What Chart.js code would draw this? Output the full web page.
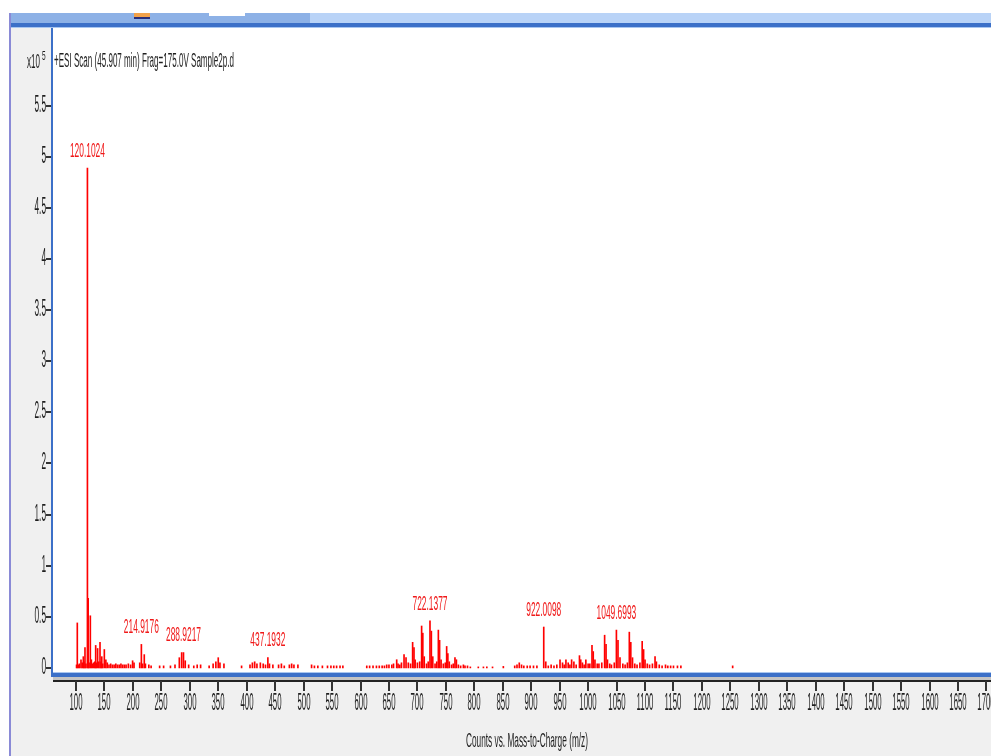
<!DOCTYPE html>
<html>
<head>
<meta charset="utf-8">
<script src="https://cdn.jsdelivr.net/npm/chart.js@4"></script>
<style>
  html, body { margin: 0; padding: 0; background: #fff; }
  #wrap { width: 991px; height: 756px; }
</style>
</head>
<body>
<div id="wrap"><canvas id="spectrum" width="991" height="756"></canvas></div>
<script>
// m/z of each stick and its height (x10^5 counts)
const mz = [
  101.0, 102.3, 104.5, 106, 108.8, 111, 112.9, 114, 115.8, 117.5,
  120.1, 121.4, 123, 125.2, 127, 129, 131, 133, 134.6, 136,
  138, 140, 142.2, 144, 145.3, 147, 149.8, 152.5, 155, 158,
  161, 164, 167, 170, 173, 176, 179, 182, 185, 188,
  192, 196, 199.5, 202, 212, 214.9, 217, 220, 222, 228,
  232, 247, 254, 266, 274, 281.6, 285.7, 288.9, 292, 298,
  307, 313, 319, 334, 341, 345.8, 350, 353, 360, 391,
  405.8, 410, 414, 418, 424, 429, 433, 437.2, 440, 446,
  456, 461, 466, 475, 479, 483, 490, 514, 519, 525,
  533, 542, 548, 553, 558, 564, 569, 611, 616, 622,
  628, 633, 638, 642, 646, 650, 655, 658, 663.6, 666,
  669, 672, 676.5, 680, 684, 688, 691.6, 694, 696, 700,
  704, 707.4, 709.5, 712, 716, 719, 722.1, 724.5, 727, 731,
  734, 736.8, 739, 741.6, 745.5, 749, 751.4, 753.5, 756, 760,
  763, 766, 768.5, 772, 776, 780.8, 783.6, 788, 793, 807,
  816, 822, 832, 851, 871, 875, 879, 883, 887, 893,
  898, 904, 910, 922.0, 925.6, 930, 935, 940, 945, 950.6,
  955, 958, 961, 965, 968, 971, 975, 979, 984.8, 987,
  990, 993, 996, 1000, 1003, 1006.8, 1009, 1012, 1016, 1019,
  1024, 1029, 1031.5, 1034, 1038, 1041, 1046, 1049.7, 1052.5, 1056,
  1061, 1065, 1069, 1072.4, 1075, 1078, 1082, 1086, 1091, 1095,
  1097.5, 1100, 1104, 1108, 1113, 1117.6, 1120, 1125, 1130, 1136,
  1140, 1145, 1150, 1157, 1163, 1254
];
const counts = [
  0.03, 0.44, 0.03, 0.04, 0.08, 0.05, 0.11, 0.06, 0.20, 0.04,
  4.89, 0.68, 0.05, 0.51, 0.08, 0.04, 0.05, 0.06, 0.22, 0.05,
  0.19, 0.06, 0.25, 0.06, 0.11, 0.04, 0.18, 0.08, 0.05, 0.03,
  0.04, 0.03, 0.03, 0.04, 0.03, 0.03, 0.04, 0.03, 0.03, 0.03,
  0.04, 0.03, 0.07, 0.05, 0.05, 0.23, 0.04, 0.13, 0.04, 0.03,
  0.02, 0.02, 0.02, 0.02, 0.03, 0.10, 0.15, 0.15, 0.07, 0.03,
  0.02, 0.03, 0.03, 0.02, 0.04, 0.06, 0.10, 0.05, 0.04, 0.02,
  0.03, 0.05, 0.06, 0.04, 0.05, 0.04, 0.03, 0.10, 0.04, 0.03,
  0.03, 0.04, 0.02, 0.03, 0.04, 0.03, 0.03, 0.03, 0.02, 0.02,
  0.02, 0.02, 0.02, 0.02, 0.02, 0.02, 0.02, 0.02, 0.02, 0.02,
  0.02, 0.02, 0.02, 0.02, 0.03, 0.03, 0.03, 0.04, 0.08, 0.04,
  0.03, 0.05, 0.13, 0.10, 0.05, 0.04, 0.25, 0.20, 0.08, 0.05,
  0.06, 0.41, 0.34, 0.11, 0.04, 0.06, 0.46, 0.36, 0.11, 0.04,
  0.06, 0.37, 0.27, 0.08, 0.04, 0.05, 0.21, 0.14, 0.06, 0.03,
  0.04, 0.10, 0.08, 0.03, 0.02, 0.03, 0.02, 0.02, 0.01, 0.01,
  0.01, 0.01, 0.01, 0.015, 0.02, 0.03, 0.05, 0.03, 0.02, 0.02,
  0.02, 0.02, 0.02, 0.40, 0.06, 0.02, 0.03, 0.02, 0.03, 0.08,
  0.05, 0.03, 0.08, 0.05, 0.03, 0.08, 0.06, 0.03, 0.12, 0.08,
  0.05, 0.03, 0.08, 0.04, 0.04, 0.22, 0.16, 0.08, 0.04, 0.04,
  0.05, 0.32, 0.23, 0.08, 0.04, 0.03, 0.05, 0.37, 0.27, 0.10,
  0.04, 0.03, 0.05, 0.35, 0.25, 0.10, 0.04, 0.03, 0.05, 0.26,
  0.18, 0.08, 0.04, 0.03, 0.04, 0.11, 0.06, 0.03, 0.02, 0.03,
  0.02, 0.02, 0.02, 0.02, 0.02, 0.02
];
const peakLabels = ['120.1024', '214.9176', '288.9217', '437.1932', '722.1377', '922.0098', '1049.6993'];
const xTicks = [100, 150, 200, 250, 300, 350, 400, 450, 500, 550, 600, 650, 700, 750, 800, 850,
  900, 950, 1000, 1050, 1100, 1150, 1200, 1250, 1300, 1350, 1400, 1450, 1500, 1550, 1600, 1650, 1700];
const yTicks = [0, 0.5, 1, 1.5, 2, 2.5, 3, 3.5, 4, 4.5, 5, 5.5];
const title = '+ESI Scan (45.907 min) Frag=175.0V Sample2p.d';
const xTitle = 'Counts vs. Mass-to-Charge (m/z)';

const FONT = '"Liberation Sans", Arial, sans-serif';

// narrow text like the instrument software draws it
function squeezed(ctx, text, x, y, size, sx, align, color) {
  ctx.save();
  ctx.font = size + 'px ' + FONT;
  ctx.fillStyle = color;
  ctx.textBaseline = 'middle';
  ctx.textAlign = align;
  ctx.translate(x, y);
  ctx.scale(sx, 1);
  ctx.fillText(text, 0, 0);
  ctx.restore();
}

function fitted(ctx, text, x, y, size, width, color) {
  ctx.save();
  ctx.font = size + 'px ' + FONT;
  const w = ctx.measureText(text).width;
  ctx.restore();
  squeezed(ctx, text, x, y, size, width / w, 'left', color);
}

const frame = {
  id: 'frame',
  beforeDraw(chart) {
    const ctx = chart.ctx;
    const a = chart.chartArea;
    ctx.save();
    ctx.fillStyle = '#ffffff';
    ctx.fillRect(0, 0, 991, 756);
    ctx.fillStyle = '#f0f0f0';
    ctx.fillRect(10, 24, 981, 732);
    // window strip at the top
    ctx.fillStyle = '#b9d3f7';
    ctx.fillRect(10, 13, 981, 11);
    ctx.fillStyle = '#8db1e6';
    ctx.fillRect(10, 13, 300, 10);
    ctx.fillStyle = '#3c70c8';
    ctx.fillRect(10, 23, 981, 4);
    ctx.fillStyle = '#a9c6f0';
    ctx.fillRect(10, 27, 981, 1);
    ctx.fillStyle = '#f2a24a';
    ctx.fillRect(134, 13, 16, 4);
    ctx.fillStyle = '#2a2f7a';
    ctx.fillRect(134, 17, 16, 2);
    ctx.fillStyle = '#ffffff';
    ctx.fillRect(209, 13, 36, 3);
    // left window edge
    ctx.fillStyle = '#8a8ad6';
    ctx.fillRect(9, 13, 2, 743);
    // plot area
    ctx.fillStyle = '#ffffff';
    ctx.fillRect(a.left, 28, a.right - a.left, a.bottom - 28);
    ctx.restore();
  },
  afterDraw(chart) {
    const ctx = chart.ctx;
    const a = chart.chartArea;
    const xs = chart.scales.x;
    const ys = chart.scales.y;
    ctx.save();
    // plot frame
    ctx.fillStyle = '#3c70c8';
    ctx.fillRect(a.left - 2, 28, 2, a.bottom - 28 + 5);
    ctx.fillStyle = '#a9c6f0';
    ctx.fillRect(a.left, a.bottom, a.right - a.left, 1);
    ctx.fillStyle = '#3c70c8';
    ctx.fillRect(a.left - 2, a.bottom + 1, a.right - a.left + 2, 4);
    ctx.fillStyle = '#c4c4c4';
    ctx.fillRect(a.left, a.bottom + 5, a.right - a.left, 3);
    // x axis
    ctx.fillStyle = '#222';
    ctx.fillRect(a.left, a.bottom + 8, a.right - a.left, 2);
    xTicks.forEach(v => {
      const px = Math.round(xs.getPixelForValue(v));
      ctx.fillStyle = '#333';
      ctx.fillRect(px - 1, a.bottom + 9, 2, 10);
      squeezed(ctx, String(v), px, a.bottom + 32, 23, 0.34, 'center', '#1e1e1e');
    });
    // y axis
    yTicks.forEach(v => {
      const py = Math.round(ys.getPixelForValue(v));
      ctx.fillStyle = '#333';
      ctx.fillRect(a.left - 7, py - 1, 5, 2);
      squeezed(ctx, String(v), a.left - 7, py, 23, 0.36, 'right', '#1e1e1e');
    });
    squeezed(ctx, 'x10', 40, 62, 20, 0.4, 'right', '#1e1e1e');
    squeezed(ctx, '5', 42, 56, 13, 0.5, 'left', '#1e1e1e');
    // titles
    fitted(ctx, title, 54, 61, 20, 180, '#1e1e1e');
    fitted(ctx, xTitle, 466, 741, 21, 122, '#1e1e1e');
    // peak labels above their sticks
    peakLabels.forEach(t => {
      const m = parseFloat(t);
      let best = -1, h = 0;
      mz.forEach((v, i) => {
        if (Math.abs(v - m) < 1.5 && counts[i] > h) { h = counts[i]; best = i; }
      });
      if (best < 0) return;
      const px = xs.getPixelForValue(mz[best]);
      const py = ys.getPixelForValue(h);
      squeezed(ctx, t, px, py - 17, 21, 0.4, 'center', '#f01818');
    });
    ctx.restore();
  }
};

const ctx = document.getElementById('spectrum').getContext('2d');
new Chart(ctx, {
  type: 'bar',
  data: {
    datasets: [{
      data: mz.map((m, i) => ({ x: m, y: counts[i] })),
      backgroundColor: '#ff0000',
      borderWidth: 0,
      barThickness: 1,
      grouped: false
    }]
  },
  options: {
    responsive: false,
    animation: false,
    devicePixelRatio: 1,
    layout: { padding: { left: 53, top: 30, right: 0, bottom: 84 } },
    plugins: {
      legend: { display: false },
      tooltip: { enabled: false }
    },
    scales: {
      x: { type: 'linear', min: 59.6, max: 1708, offset: false, display: false },
      y: { min: -0.04, max: 6.24, display: false }
    }
  },
  plugins: [frame]
});
</script>
</body>
</html>
